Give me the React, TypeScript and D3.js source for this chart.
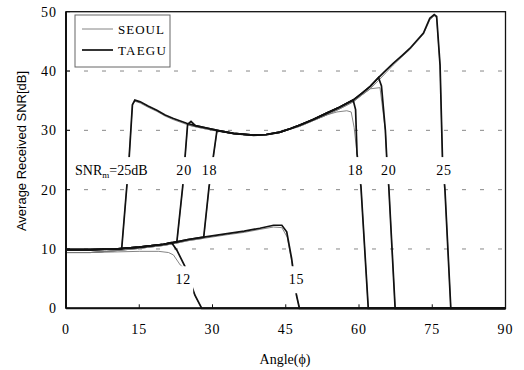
import React from 'react';
import * as d3 from 'd3';

type Pt = [number, number];

// shared lower band (angle, SNR)
const baseTaegu: Pt[] = [[0, 9.9], [5, 9.9], [10, 10.0], [15, 10.3], [20, 10.8], [22.7, 11.2], [25, 11.6], [28.2, 12.0], [33, 12.6], [36.5, 13.0], [39.7, 13.5], [42.5, 14.0], [44.2, 14.0]];
const baseSeoul: Pt[] = [[0, 9.4], [5, 9.4], [10, 9.7], [15, 10.1], [20, 10.6], [22.7, 11.0], [25, 11.4], [28.2, 11.8], [33, 12.4], [36.5, 12.8], [39.7, 13.3], [42.5, 13.7], [44.2, 13.6]];

// shared upper band
const upperTaegu: Pt[] = [[14.1, 35.1], [15.2, 34.8], [16.8, 34.1], [18.6, 33.4], [20.3, 32.6], [22, 32.0], [24.7, 31.2], [26.5, 30.8], [28.8, 30.4], [31.5, 29.9], [34.3, 29.5], [38.4, 29.2], [41, 29.3], [43.8, 29.7], [46, 30.3], [47.9, 30.9], [50.5, 31.8], [53.4, 32.9], [56, 33.9], [58.8, 35.1], [60.5, 36.2], [62.3, 37.4], [64, 38.9], [65.5, 40.1], [67, 41.3], [68.8, 42.6], [70.4, 43.8], [71.8, 45.1], [73.2, 46.4], [74.5, 48.9], [75.4, 49.5], [75.9, 49.2]];
const upperSeoul: Pt[] = [[14.1, 34.9], [15.2, 34.6], [16.8, 33.9], [18.6, 33.2], [20.3, 32.4], [22, 31.8], [24.7, 31.0], [26.5, 30.6], [28.8, 30.2], [31.5, 29.8], [34.3, 29.4], [38.4, 29.1], [41, 29.2], [43.8, 29.6], [46, 30.2], [47.9, 30.7], [50.5, 31.6], [53.4, 32.6], [56, 33.6], [58.8, 34.8], [60.5, 35.9], [62.3, 37.0], [64, 38.4], [65.5, 39.7], [67, 41.0], [68.8, 42.4], [70.4, 43.6], [71.8, 44.9], [73.2, 46.2], [74.5, 48.6], [75.4, 49.3], [75.9, 49.0]];

// transitions per threshold
const tail12T: Pt[] = [[21.6, 11.1], [22.7, 9.8], [24.4, 7.0], [26.4, 2.2], [27.8, 0], [90, 0]];
const seoul12: Pt[] = [[0, 9.4], [5, 9.4], [10, 9.5], [15, 9.6], [19, 9.6], [21, 9.4], [22, 9.0], [23.4, 7.3], [24.4, 6.6], [26.4, 2.2], [27.8, 0], [90, 0]];
const tail15T: Pt[] = [[45.2, 12.9], [46.2, 8.4], [47.2, 2.2], [47.8, 0], [90, 0]];
const tail15S: Pt[] = [[45.3, 12.0], [46.2, 8.0], [47.2, 2.2], [47.8, 0], [90, 0]];
const rise18T: Pt[] = [[29.3, 20.5], [30.9, 29.9]];
const rise18S: Pt[] = [[29.3, 20.5], [30.9, 29.7]];
const fall18T: Pt[] = [[59.3, 33.5], [59.6, 26], [60.4, 20.5], [61.9, 0], [90, 0]];
const fall18S: Pt[] = [[55.5, 33.1], [57.5, 33.3], [58.4, 33.1], [59.0, 30.5], [59.6, 26], [60.4, 20.5], [61.9, 0], [90, 0]];
const rise20T: Pt[] = [[23.9, 20.5], [24.9, 31.0], [25.6, 31.5]];
const rise20S: Pt[] = [[23.9, 20.5], [24.9, 30.9]];
const fall20T: Pt[] = [[64.6, 37.5], [65.4, 30], [65.7, 25], [66.1, 20.5], [67.4, 0], [90, 0]];
const fall20S: Pt[] = [[64.3, 37.2], [65.4, 30], [65.7, 25], [66.1, 20.5], [67.4, 0], [90, 0]];
const rise25: Pt[] = [[11.4, 10.0], [12.9, 25], [13.6, 34.3]];
const fall25T: Pt[] = [[76.6, 41], [77.1, 25], [77.6, 20], [78.8, 0], [90, 0]];
const fall25S: Pt[] = [[76.6, 40.8], [77.1, 25], [77.6, 20], [78.8, 0], [90, 0]];

const clip = (pts: Pt[], lo: number, hi: number) => pts.filter(([a]) => a >= lo && a <= hi);

const seoulCurves: Pt[][] = [
  seoul12,
  [...baseSeoul, ...tail15S],
  [...clip(baseSeoul, 0, 28.2), ...rise18S, ...clip(upperSeoul, 31, 54), ...fall18S],
  [...clip(baseSeoul, 0, 22.7), ...rise20S, ...clip(upperSeoul, 25, 63.5), ...fall20S],
  [...clip(baseSeoul, 0, 10), ...rise25, ...upperSeoul, ...fall25S],
];
const taeguCurves: Pt[][] = [
  [...clip(baseTaegu, 0, 20), ...tail12T],
  [...baseTaegu, ...tail15T],
  [...clip(baseTaegu, 0, 28.2), ...rise18T, ...clip(upperTaegu, 31, 58.8), ...fall18T],
  [...clip(baseTaegu, 0, 22.7), ...rise20T, ...clip(upperTaegu, 26, 64), ...fall20T],
  [...clip(baseTaegu, 0, 10), ...rise25, ...upperTaegu, ...fall25T],
];

const xTicks = [0, 15, 30, 45, 60, 75, 90];
const yTicks = [0, 10, 20, 30, 40, 50];
const gridValues = [10, 20, 30, 40];

const curveLabels = [
  { text: '20', angle: 24.2, snr: 23.3 },
  { text: '18', angle: 29.4, snr: 23.3 },
  { text: '18', angle: 59.3, snr: 23.3 },
  { text: '20', angle: 66.1, snr: 23.3 },
  { text: '25', angle: 77.4, snr: 23.3 },
  { text: '12', angle: 24.0, snr: 4.9 },
  { text: '15', angle: 47.2, snr: 4.9 },
];

const serif = 'Liberation Serif, DejaVu Serif, serif';
const sans = 'Liberation Sans, Arial, sans-serif';

const App = () => {
  const x = d3.scaleLinear().domain([0, 90]).range([66, 505.5]);
  const y = d3.scaleLinear().domain([0, 50]).range([308.3, 11.7]);
  const line = d3
    .line<Pt>()
    .x((d) => x(d[0]))
    .y((d) => y(d[1]));

  return (
    <svg width={524} height={370} style={{ position: 'absolute', left: 0, top: 0, background: '#fff' }}>
      <rect x={0} y={0} width={524} height={370} fill='#fff' />
      {gridValues.map((v) => (
        <line key={v} x1={x(0)} x2={x(90)} y1={y(v)} y2={y(v)} stroke='#888' strokeWidth={1} strokeDasharray='4 14' />
      ))}

      {seoulCurves.map((c, i) => (
        <path key={'s' + i} d={line(c) || ''} fill='none' stroke='#777' strokeWidth={0.9} />
      ))}
      {taeguCurves.map((c, i) => (
        <path key={'t' + i} d={line(c) || ''} fill='none' stroke='#111' strokeWidth={1.7} />
      ))}

      {/* labels with white backing, the lines break around them */}
      {curveLabels.map((l, i) => (
        <g key={i}>
          <rect x={x(l.angle) - 10} y={y(l.snr) - 13} width={20} height={27} fill='#fff' />
          <text x={x(l.angle)} y={y(l.snr) + 5} textAnchor='middle' style={{ fontFamily: serif }} fontSize={14} letterSpacing={0.8}>
            {l.text}
          </text>
        </g>
      ))}
      <rect x={74} y={y(23.3) - 13} width={76} height={27} fill='#fff' />
      <text x={75} y={y(23.3) + 5} style={{ fontFamily: serif }} fontSize={14}>
        SNR<tspan fontSize={9} dy={3}>m</tspan>
        <tspan dy={-3}>=25dB</tspan>
      </text>

      {/* frame */}
      <rect x={x(0)} y={y(50)} width={x(90) - x(0)} height={y(0) - y(50)} fill='none' stroke='#111' strokeWidth={1.3} />
      <line x1={x(0)} x2={x(0)} y1={y(50)} y2={y(0)} stroke='#111' strokeWidth={2} />
      <line x1={x(0)} x2={x(90)} y1={y(0)} y2={y(0)} stroke='#111' strokeWidth={2} />

      {xTicks.map((t) => (
        <g key={t}>
          <line x1={x(t)} x2={x(t)} y1={y(0)} y2={y(0) - 4} stroke='#111' strokeWidth={1} />
          <text x={x(t)} y={334} textAnchor='middle' style={{ fontFamily: serif }} fontSize={14} letterSpacing={1}>
            {t}
          </text>
        </g>
      ))}
      {yTicks.map((t) => (
        <g key={t}>
          <line x1={x(0)} x2={x(0) + 4} y1={y(t)} y2={y(t)} stroke='#111' strokeWidth={1} />
          <text x={57} y={y(t) + 5} textAnchor='end' style={{ fontFamily: serif }} fontSize={14} letterSpacing={1}>
            {t}
          </text>
        </g>
      ))}

      <text x={285} y={364} textAnchor='middle' style={{ fontFamily: serif }} fontSize={14}>
        Angle(ϕ)
      </text>
      <text transform='translate(26,151) rotate(-90)' textAnchor='middle' style={{ fontFamily: sans }} fontSize={13}>
        Average Received SNR[dB]
      </text>

      {/* legend */}
      <rect x={75} y={15} width={95} height={52} fill='#fff' stroke='#666' strokeWidth={1} />
      <line x1={82} x2={113} y1={29} y2={29} stroke='#777' strokeWidth={0.9} />
      <line x1={82} x2={113} y1={50} y2={50} stroke='#111' strokeWidth={1.7} />
      <text x={118} y={34} style={{ fontFamily: serif }} fontSize={13} letterSpacing={1}>
        SEOUL
      </text>
      <text x={118} y={55} style={{ fontFamily: serif }} fontSize={13} letterSpacing={1.2}>
        TAEGU
      </text>
    </svg>
  );
};

export default App;
